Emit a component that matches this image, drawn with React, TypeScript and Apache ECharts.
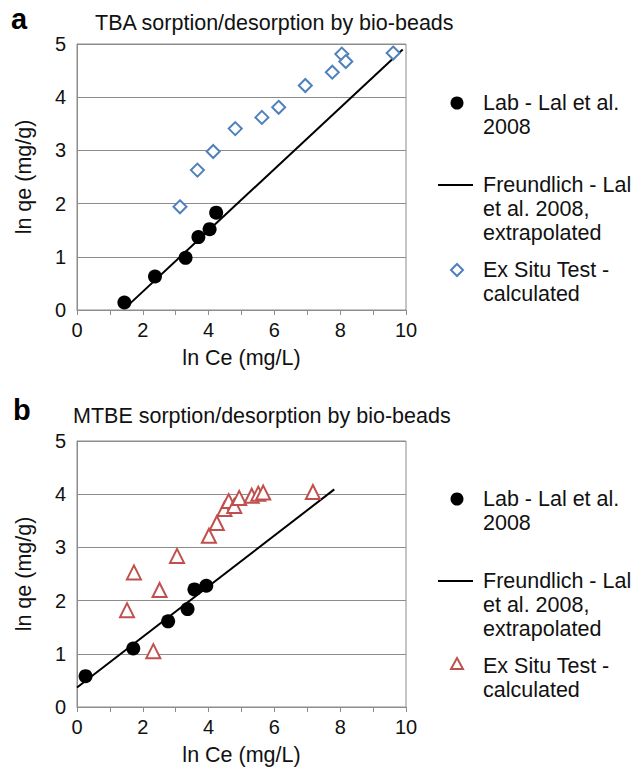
import React, { useEffect, useRef } from "react";
import * as echarts from "echarts";

// Panel a: TBA
const tbaLab: number[][] = [
  [1.44, 0.14], [2.37, 0.63], [3.3, 0.98], [3.69, 1.37], [4.03, 1.52], [4.23, 1.83],
];
const tbaFreundlich: number[][] = [[1.6, 0.115], [9.9, 4.895]];
const tbaExSitu: number[][] = [
  [3.13, 1.94], [3.66, 2.63], [4.14, 2.98], [4.81, 3.41], [5.62, 3.62], [6.13, 3.81],
  [6.94, 4.22], [7.76, 4.47], [8.05, 4.81], [8.17, 4.67], [9.61, 4.83],
];

// Panel b: MTBE
const mtbeLab: number[][] = [
  [0.26, 0.58], [1.71, 1.1], [2.77, 1.61], [3.36, 1.84], [3.57, 2.21], [3.93, 2.28],
];
const mtbeFreundlich: number[][] = [[0, 0.365], [7.82, 4.09]];
const mtbeExSitu: number[][] = [
  [1.52, 1.82], [1.73, 2.53], [2.51, 2.2], [2.32, 1.05], [3.04, 2.84], [4.01, 3.22],
  [4.25, 3.46], [4.48, 3.72], [4.61, 3.87], [4.78, 3.78], [4.93, 3.93], [5.31, 3.97],
  [5.51, 4.01], [5.66, 4.03], [7.17, 4.04],
];

const titleA = "TBA sorption/desorption by bio-beads";
const titleB = "MTBE sorption/desorption by bio-beads";
const xName = "ln Ce (mg/L)";
const yName = "ln qe (mg/g)";
const labName = "Lab - Lal et al.\n2008";
const freundName = "Freundlich - Lal\net al. 2008,\nextrapolated";
const exName = "Ex Situ Test -\ncalculated";

const FONT = "Liberation Sans, Arial, sans-serif";
const BLUE = "#4F81BD";
const RED = "#C0504D";
const GRAY = "#8c8c8c";
const TXT = 21.5;

export default function App() {
  const ref = useRef<HTMLDivElement>(null);
  useEffect(() => {
    if (!ref.current) return;
    const chart = echarts.init(ref.current, null, { renderer: "svg" });

    const grids = [
      { left: 77, top: 44, width: 329, height: 266 },
      { left: 77, top: 441, width: 329, height: 266 },
    ];

    const xAxis = grids.map((_, i) => ({
      type: "value",
      gridIndex: i,
      min: 0,
      max: 10,
      interval: 1,
      name: xName,
      nameLocation: "middle",
      nameGap: 37,
      nameTextStyle: { fontFamily: FONT, fontSize: TXT, color: "#111" },
      axisLine: { show: true, onZero: false, lineStyle: { color: GRAY } },
      axisTick: { show: true, length: 5, lineStyle: { color: GRAY } },
      axisLabel: {
        fontFamily: FONT,
        fontSize: 20,
        color: "#111",
        margin: 10,
        formatter: (v: number) => (v % 2 === 0 ? String(v) : ""),
      },
      splitLine: { show: false },
    }));

    const yAxis = grids.map((_, i) => ({
      type: "value",
      gridIndex: i,
      min: 0,
      max: 5,
      interval: 1,
      name: yName,
      nameLocation: "middle",
      nameGap: 42,
      nameTextStyle: { fontFamily: FONT, fontSize: TXT, color: "#111" },
      axisLine: { show: true, lineStyle: { color: GRAY } },
      axisTick: { show: false },
      axisLabel: { fontFamily: FONT, fontSize: 20, color: "#111", margin: 11 },
      splitLine: { show: true, lineStyle: { color: GRAY, width: 1 } },
    }));

    const mk = (i: number, lab: number[][], fr: number[][], ex: number[][], exSymbol: string, exColor: string, exSize: number) => [
      {
        type: "line",
        xAxisIndex: i,
        yAxisIndex: i,
        data: fr,
        showSymbol: false,
        symbol: "none",
        lineStyle: { color: "#000", width: 2 },
        z: 3,
      },
      {
        type: "scatter",
        xAxisIndex: i,
        yAxisIndex: i,
        data: lab,
        symbol: "circle",
        symbolSize: 14,
        itemStyle: { color: "#000", opacity: 1 },
        z: 4,
      },
      {
        type: "scatter",
        xAxisIndex: i,
        yAxisIndex: i,
        data: ex,
        symbol: exSymbol,
        symbolSize: exSize,
        itemStyle: { color: "#fff", borderColor: exColor, borderWidth: 2, opacity: 1 },
        z: 5,
      },
    ];

    const legendText = (x: number, y: number, text: string) => ({
      type: "text",
      x,
      y,
      style: {
        text,
        fontFamily: FONT,
        fontSize: TXT,
        lineHeight: 24,
        fill: "#111",
        textVerticalAlign: "top",
      },
    });

    const legendBlock = (top: number, exShape: "diamond" | "triangle") => {
      const els: any[] = [];
      els.push({ type: "circle", shape: { cx: 457, cy: top + 103, r: 6.5 }, style: { fill: "#000" } });
      els.push(legendText(483, top + 91, labName));
      els.push({ type: "line", shape: { x1: 438, y1: top + 185, x2: 473, y2: top + 185 }, style: { stroke: "#000", lineWidth: 2 } });
      els.push(legendText(483, top + 173, freundName));
      if (exShape === "diamond") {
        els.push({
          type: "polygon",
          shape: { points: [[457, top + 264], [463, top + 270], [457, top + 276], [451, top + 270]] },
          style: { fill: "#fff", stroke: BLUE, lineWidth: 2 },
        });
      } else {
        els.push({
          type: "polygon",
          shape: { points: [[457, top + 262], [463, top + 273], [451, top + 273]] },
          style: { fill: "#fff", stroke: RED, lineWidth: 2 },
        });
      }
      els.push(legendText(483, top + 258, exName));
      return els;
    };

    const option = {
      animation: false,
      backgroundColor: "#fff",
      grid: grids.map((g) => ({ ...g, show: true, borderColor: GRAY, borderWidth: 1, backgroundColor: "transparent" })),
      xAxis,
      yAxis,
      series: [
        ...mk(0, tbaLab, tbaFreundlich, tbaExSitu, "diamond", BLUE, 13),
        ...mk(1, mtbeLab, mtbeFreundlich, mtbeExSitu, "triangle", RED, 14),
      ],
      graphic: [
        { type: "text", x: 11, y: 4, style: { text: "a", fontFamily: FONT, fontSize: 29, fontWeight: "bold", fill: "#000" } },
        { type: "text", x: 95, y: 12, style: { text: titleA, fontFamily: FONT, fontSize: TXT, fill: "#111" } },
        { type: "text", x: 13, y: 395, style: { text: "b", fontFamily: FONT, fontSize: 29, fontWeight: "bold", fill: "#000" } },
        { type: "text", x: 73, y: 405, style: { text: titleB, fontFamily: FONT, fontSize: TXT, fill: "#111" } },
        ...legendBlock(0, "diamond"),
        ...legendBlock(396, "triangle"),
      ],
    };

    chart.setOption(option as any);
    return () => chart.dispose();
  }, []);

  return <div ref={ref} style={{ position: "absolute", left: 0, top: 0, width: 642, height: 770 }} />;
}
